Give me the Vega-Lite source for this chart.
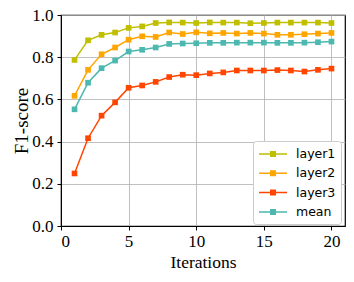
{
  "$schema": "https://vega.github.io/schema/vega-lite/v6.json",
  "width": 284,
  "height": 211,
  "autosize": {"type": "none"},
  "padding": {"left": 61, "top": 15, "right": 9, "bottom": 56},
  "config": {
    "view": {"stroke": "black", "strokeWidth": 1.2},
    "axis": {
      "labelFont": "Liberation Serif",
      "titleFont": "Liberation Serif",
      "labelFontSize": 17,
      "titleFontSize": 17.5,
      "titleFontWeight": "normal",
      "labelColor": "black",
      "titleColor": "black",
      "tickColor": "black",
      "domainColor": "black",
      "gridColor": "#b0b0b0",
      "gridWidth": 0.8,
      "tickSize": 4,
      "labelPadding": 3
    },
    "legend": {
      "labelFont": "DejaVu Sans",
      "labelFontSize": 12.5,
      "labelColor": "black"
    }
  },
  "data": {
    "values": [
      {"it":1,"s":"layer1","v":0.787},{"it":2,"s":"layer1","v":0.880},{"it":3,"s":"layer1","v":0.906},{"it":4,"s":"layer1","v":0.917},{"it":5,"s":"layer1","v":0.939},{"it":6,"s":"layer1","v":0.946},{"it":7,"s":"layer1","v":0.962},{"it":8,"s":"layer1","v":0.965},{"it":9,"s":"layer1","v":0.964},{"it":10,"s":"layer1","v":0.962},{"it":11,"s":"layer1","v":0.965},{"it":12,"s":"layer1","v":0.964},{"it":13,"s":"layer1","v":0.964},{"it":14,"s":"layer1","v":0.961},{"it":15,"s":"layer1","v":0.962},{"it":16,"s":"layer1","v":0.964},{"it":17,"s":"layer1","v":0.964},{"it":18,"s":"layer1","v":0.964},{"it":19,"s":"layer1","v":0.964},{"it":20,"s":"layer1","v":0.962},
      {"it":1,"s":"layer2","v":0.617},{"it":2,"s":"layer2","v":0.740},{"it":3,"s":"layer2","v":0.814},{"it":4,"s":"layer2","v":0.846},{"it":5,"s":"layer2","v":0.883},{"it":6,"s":"layer2","v":0.899},{"it":7,"s":"layer2","v":0.896},{"it":8,"s":"layer2","v":0.917},{"it":9,"s":"layer2","v":0.910},{"it":10,"s":"layer2","v":0.918},{"it":11,"s":"layer2","v":0.913},{"it":12,"s":"layer2","v":0.915},{"it":13,"s":"layer2","v":0.912},{"it":14,"s":"layer2","v":0.915},{"it":15,"s":"layer2","v":0.912},{"it":16,"s":"layer2","v":0.906},{"it":17,"s":"layer2","v":0.906},{"it":18,"s":"layer2","v":0.909},{"it":19,"s":"layer2","v":0.912},{"it":20,"s":"layer2","v":0.915},
      {"it":1,"s":"layer3","v":0.249},{"it":2,"s":"layer3","v":0.416},{"it":3,"s":"layer3","v":0.523},{"it":4,"s":"layer3","v":0.586},{"it":5,"s":"layer3","v":0.655},{"it":6,"s":"layer3","v":0.666},{"it":7,"s":"layer3","v":0.683},{"it":8,"s":"layer3","v":0.706},{"it":9,"s":"layer3","v":0.717},{"it":10,"s":"layer3","v":0.715},{"it":11,"s":"layer3","v":0.723},{"it":12,"s":"layer3","v":0.728},{"it":13,"s":"layer3","v":0.737},{"it":14,"s":"layer3","v":0.737},{"it":15,"s":"layer3","v":0.737},{"it":16,"s":"layer3","v":0.739},{"it":17,"s":"layer3","v":0.737},{"it":18,"s":"layer3","v":0.732},{"it":19,"s":"layer3","v":0.740},{"it":20,"s":"layer3","v":0.746},
      {"it":1,"s":"mean","v":0.553},{"it":2,"s":"mean","v":0.679},{"it":3,"s":"mean","v":0.748},{"it":4,"s":"mean","v":0.784},{"it":5,"s":"mean","v":0.827},{"it":6,"s":"mean","v":0.835},{"it":7,"s":"mean","v":0.846},{"it":8,"s":"mean","v":0.863},{"it":9,"s":"mean","v":0.865},{"it":10,"s":"mean","v":0.866},{"it":11,"s":"mean","v":0.868},{"it":12,"s":"mean","v":0.868},{"it":13,"s":"mean","v":0.869},{"it":14,"s":"mean","v":0.869},{"it":15,"s":"mean","v":0.869},{"it":16,"s":"mean","v":0.868},{"it":17,"s":"mean","v":0.868},{"it":18,"s":"mean","v":0.869},{"it":19,"s":"mean","v":0.871},{"it":20,"s":"mean","v":0.874}
    ]
  },
  "mark": {"type": "line", "strokeWidth": 1.5, "point": {"shape": "square", "filled": true, "size": 32, "opacity": 1}},
  "encoding": {
    "x": {
      "field": "it", "type": "quantitative", "title": "Iterations",
      "scale": {"domain": [0, 21], "nice": false, "zero": false},
      "axis": {"values": [0, 5, 10, 15, 20], "format": "d", "titlePadding": 4}
    },
    "y": {
      "field": "v", "type": "quantitative", "title": "F1-score",
      "scale": {"domain": [0, 1], "nice": false},
      "axis": {"values": [0, 0.2, 0.4, 0.6, 0.8, 1.0], "format": ".1f", "labelPadding": 4, "titlePadding": 0, "titleFontSize": 19}
    },
    "color": {
      "field": "s", "type": "nominal",
      "scale": {"domain": ["layer1", "layer2", "layer3", "mean"], "range": ["#bfbf00", "#ffa500", "#ff4500", "#4cb8b0"]},
      "legend": {
        "title": null,
        "orient": "none",
        "legendX": 192,
        "legendY": 126,
        "fillColor": "white",
        "strokeColor": "#cccccc",
        "cornerRadius": 3,
        "padding": 5,
        "rowPadding": 4.3,
        "symbolType": "M-2,0L2,0M-0.32,-0.32L0.32,-0.32L0.32,0.32L-0.32,0.32Z",
        "symbolSize": 196,
        "symbolOffset": 7,
        "symbolStrokeWidth": 1.5,
        "labelOffset": 15,
        "encode": {"symbols": {"update": {"fill": {"scale": "color", "field": "value"}, "opacity": {"value": 1}}}}
      }
    }
  }
}
